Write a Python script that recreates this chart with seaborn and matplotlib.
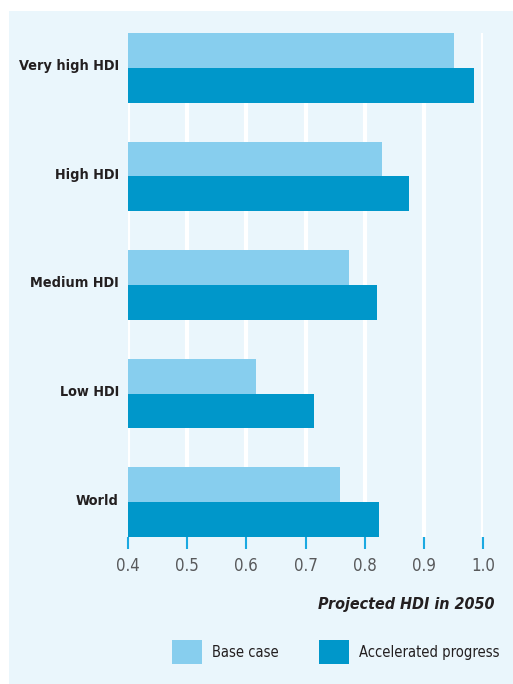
import matplotlib
matplotlib.use("Agg")
import matplotlib.pyplot as plt
from matplotlib.patches import Rectangle, Patch
from matplotlib import font_manager
import matplotlib.transforms as mtransforms
import seaborn as sns
import pandas as pd

regions = ["Very high HDI", "High HDI", "Medium HDI", "Low HDI", "World"]
base_case = [0.951, 0.830, 0.774, 0.617, 0.759]
accelerated = [0.984, 0.875, 0.821, 0.715, 0.825]
series_names = ["Base case", "Accelerated progress"]
xticks = [0.4, 0.5, 0.6, 0.7, 0.8, 0.9, 1.0]
xlabel = "Projected HDI in 2050"

df = pd.DataFrame({
    "region": regions * 2,
    "value": base_case + accelerated,
    "scenario": [series_names[0]] * len(regions) + [series_names[1]] * len(regions),
})

sns.set_style("white")

# choose a narrow font if available
names = {f.name for f in font_manager.fontManager.ttflist}
stretch = "normal"
if "Liberation Sans Narrow" in names:
    fam = "Liberation Sans Narrow"
else:
    cond = [f for f in font_manager.fontManager.ttflist
            if f.name == "DejaVu Sans" and str(f.stretch) not in ("normal", "400")]
    if cond:
        fam = "DejaVu Sans"
        stretch = "condensed"
    elif "Roboto" in names:
        fam = "Roboto"
    else:
        fam = "DejaVu Sans"
plt.rcParams["font.family"] = [fam, "DejaVu Sans"]
plt.rcParams["font.stretch"] = stretch

LIGHT = "#87ceee"
DARK = "#0097ca"
BG = "#eaf6fc"
TXT = "#231f20"

W, H = 513, 684
fig = plt.figure(figsize=(W / 100, H / 100), dpi=100)
fig.patch.set_facecolor("white")
fig.patches.append(Rectangle((9 / W, 0), 1, 1 - 11 / H, transform=fig.transFigure,
                             facecolor=BG, edgecolor="none", zorder=-10))

ax = fig.add_axes([128 / W, 1 - 537 / H, (483 - 128) / W, (537 - 33) / H])
ax.set_facecolor(BG)

sns.barplot(data=df, y="region", x="value", hue="scenario", orient="h",
            palette=[LIGHT, DARK], width=0.642, saturation=1, legend=False,
            ax=ax, order=regions, hue_order=series_names, linewidth=0, edgecolor="none")

ax.set_xlim(0.4, 1.0)
ax.set_ylim(len(regions) - 1 + 0.321, -0.321)
ax.set_xticks(xticks)
ax.set_xticklabels([f"{t:.1f}" for t in xticks], fontsize=14, color="#58595b")
ax.xaxis.grid(True, color="white", lw=3.0)
ax.yaxis.grid(False)
ax.set_axisbelow(True)
for s in ax.spines.values():
    s.set_visible(False)
ax.tick_params(axis="x", length=8.6, width=1.5, color="#1ba9e1", pad=6, bottom=True, direction="out")
ax.tick_params(axis="y", length=0, pad=6.5)
ax.set_yticks(range(len(regions)))
ax.set_yticklabels(regions, fontweight="bold", fontsize=12.3, color=TXT)
ax.set_xlabel("")
ax.set_ylabel("")

# raise category labels a few pixels, as in the reference
offset = mtransforms.ScaledTranslation(0, 3 / 100, fig.dpi_scale_trans)
for lbl in ax.get_yticklabels():
    lbl.set_transform(lbl.get_transform() + offset)

xl = fig.text(495 / W, 1 - 604 / H, xlabel, ha="right", va="center", fontsize=14,
              fontweight="bold", fontstyle="italic", color=TXT)

renderer = fig.canvas.get_renderer()


def fit(text, target_px, max_scale=1.3):
    w = text.get_window_extent(renderer).width
    if w > 0:
        s = min(target_px / w, max_scale)
        text.set_fontsize(text.get_fontsize() * s)
    return text.get_fontsize()


fig.canvas.draw()
xt = ax.get_xticklabels()
s_tick = fit(xt[0], 24)
for t in xt:
    t.set_fontsize(s_tick)
yt = ax.get_yticklabels()
s_y = fit(yt[0], 100)
for t in yt:
    t.set_fontsize(s_y)
fit(xl, 178)

probe = fig.text(0, 0, series_names[1], fontsize=12.5)
leg_fs = fit(probe, 140)
probe.remove()
em = leg_fs * 100 / 72
handles = [Patch(facecolor=LIGHT, edgecolor="none"), Patch(facecolor=DARK, edgecolor="none")]
leg = fig.legend(handles, series_names, loc="center left", bbox_to_anchor=(172 / W, 1 - 652 / H),
                 ncol=2, frameon=False, fontsize=leg_fs, handlelength=30 / em, handleheight=30 / em,
                 handletextpad=10 / em, columnspacing=40 / em, borderpad=0, borderaxespad=0)
for t in leg.get_texts():
    t.set_color(TXT)

fig.savefig("out.png", dpi=100, facecolor=fig.get_facecolor())
